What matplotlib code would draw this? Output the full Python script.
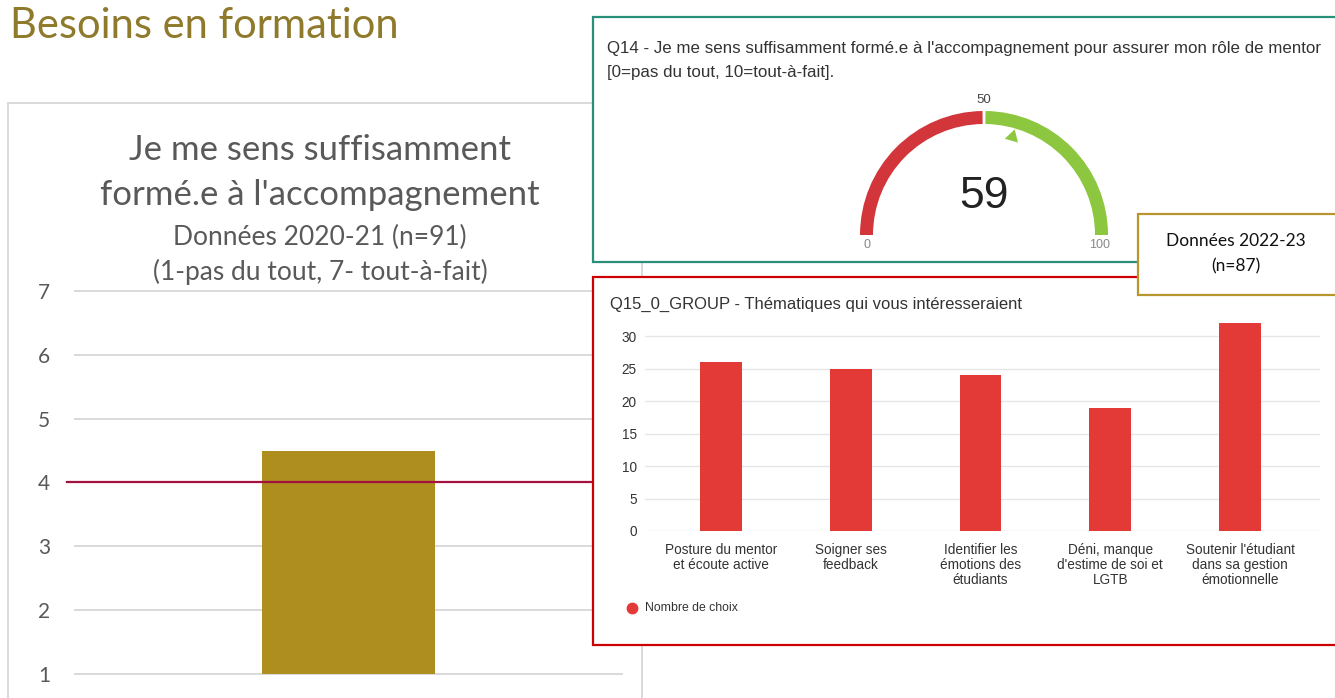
import matplotlib
matplotlib.use("Agg")
import matplotlib.pyplot as plt
import matplotlib.transforms as mtransforms
from matplotlib.patches import Rectangle, Wedge, Polygon
from matplotlib.lines import Line2D
import numpy as np

# ---------------- data ----------------
slide_title = "Besoins en formation"

# 2020-21 survey: mean self-assessed training level on a 1-7 scale
left_title = ["Je me sens suffisamment", "formé.e à l'accompagnement"]
left_subtitle = ["Données 2020-21 (n=91)", "(1-pas du tout, 7- tout-à-fait)"]
score_2021 = 4.5
reference_level = 4.0
left_ticks = [1, 2, 3, 4, 5, 6, 7]

# 2022-23 survey: gauge on a 0-100 scale
q14_text = ["Q14 - Je me sens suffisamment formé.e à l'accompagnement pour assurer mon rôle de mentor",
            "[0=pas du tout, 10=tout-à-fait]."]
gauge_value = 59
gauge_min, gauge_mid, gauge_max = 0, 50, 100

# 2022-23 survey: topics of interest
q15_title = "Q15_0_GROUP - Thématiques qui vous intéresseraient"
themes = ["Posture du mentor\net écoute active",
          "Soigner ses\nfeedback",
          "Identifier les\némotions des\nétudiants",
          "Déni, manque\nd'estime de soi et\nLGTB",
          "Soutenir l'étudiant\ndans sa gestion\némotionnelle"]
theme_counts = [26, 25, 24, 19, 32]
count_ticks = [0, 5, 10, 15, 20, 25, 30]
legend_label = "Nombre de choix"

note_text = ["Données 2022-23", "(n=87)"]

# ---------------- layout helpers (pixel -> figure fraction) ----------------
W, H = 1335, 698
fig = plt.figure(figsize=(W / 100, H / 100), dpi=100)
fig.patch.set_facecolor("white")


def fx(x):
    return x / W


def fy(y):
    return 1 - y / H


def rect_px(x0, y0, x1, y1):
    return [fx(x0), fy(y1), (x1 - x0) / W, (y1 - y0) / H]


def frame(x0, y0, x1, y1, edge, lw, z):
    r = Rectangle((fx(x0), fy(y1)), (x1 - x0) / W, (y1 - y0) / H,
                  transform=fig.transFigure, facecolor="white",
                  edgecolor=edge, linewidth=lw, zorder=z, clip_on=False)
    fig.add_artist(r)


SANS = ["Lato", "DejaVu Sans"]
WEB = ["Liberation Sans", "DejaVu Sans"]

# ---------------- slide title ----------------
fig.text(fx(10), fy(26), slide_title, fontsize=30, color="#8F7A2C",
         family=SANS, va="center", ha="left")

# ---------------- left chart (2020-21) ----------------
frame(8, 103, 642, 710, "#D9D9D9", 1.4, 0.5)

for txt, y in zip(left_title, [150, 195]):
    fig.text(fx(320), fy(y), txt, fontsize=25, color="#595959",
             family=SANS, ha="center", va="center", zorder=1)
for txt, y in zip(left_subtitle, [237, 272]):
    fig.text(fx(320), fy(y), txt, fontsize=19, color="#595959",
             family=SANS, ha="center", va="center", zorder=1)

axl = fig.add_axes(rect_px(75, 291, 622, 674), zorder=1)
axl.patch.set_visible(False)
axl.set_xlim(-0.5, 0.5)
axl.set_ylim(left_ticks[0], left_ticks[-1])
for t in left_ticks:
    axl.axhline(t, color="#D9D9D9", lw=1.4, zorder=0, clip_on=False)
axl.bar([0], [score_2021], width=0.315, color="#AD8E1F", zorder=2)
axl.set_yticks(left_ticks)
axl.set_xticks([])
axl.tick_params(axis="y", length=0, pad=18, labelsize=15, labelcolor="#595959")
for lab in axl.get_yticklabels():
    lab.set_family(SANS)
for s in axl.spines.values():
    s.set_visible(False)

# reference line at the mid level, running across to the right-hand panels
blend = mtransforms.blended_transform_factory(fig.transFigure, axl.transData)
axl.plot([fx(67), fx(593)], [reference_level, reference_level], transform=blend,
         color="#A3123F", lw=1.6, clip_on=False, zorder=3)

# ---------------- Q14 gauge panel ----------------
frame(593, 17, 1345, 262, "#2A8F78", 1.6, 2)
for txt, y in zip(q14_text, [48, 73]):
    fig.text(fx(607), fy(y), txt, fontsize=12.2, color="#333333",
             family=WEB, ha="left", va="center", zorder=3)

axg = fig.add_axes(rect_px(844, 95, 1124, 375), zorder=3)
axg.patch.set_visible(False)
axg.set_xlim(-1.4, 1.4)
axg.set_ylim(-1.4, 1.4)
axg.axis("off")


def angle(v):
    return 180.0 - 180.0 * (v - gauge_min) / (gauge_max - gauge_min)


R_OUT, THICK, GAP = 1.24, 0.13, 0.7
axg.add_patch(Wedge((0, 0), R_OUT, angle(gauge_mid) + GAP, angle(gauge_min),
                    width=THICK, facecolor="#D2353A", edgecolor="none"))
axg.add_patch(Wedge((0, 0), R_OUT, angle(gauge_max), angle(gauge_mid) - GAP,
                    width=THICK, facecolor="#8DC63F", edgecolor="none"))

a = np.radians(angle(gauge_value))
a_half = np.radians(4.0)
tip = (1.10 * np.cos(a), 1.10 * np.sin(a))
b1 = (0.985 * np.cos(a + a_half), 0.985 * np.sin(a + a_half))
b2 = (0.985 * np.cos(a - a_half), 0.985 * np.sin(a - a_half))
axg.add_patch(Polygon([tip, b1, b2], closed=True, facecolor="#8DC63F",
                      edgecolor="none"))

axg.text(0, 0.39, f"{gauge_value}", fontsize=32, color="#222222", family=WEB,
         ha="center", va="center")
axg.text(0, 1.35, f"{gauge_mid}", fontsize=9.5, color="#444444", family=WEB,
         ha="center", va="center")
axg.text(-1.17, -0.105, f"{gauge_min}", fontsize=9, color="#888888", family=WEB,
         ha="center", va="center")
axg.text(1.155, -0.105, f"{gauge_max}", fontsize=9, color="#888888", family=WEB,
         ha="center", va="center")

# ---------------- Q15 bar chart panel ----------------
frame(593, 277, 1345, 645, "#CC0000", 1.6, 2)
fig.text(fx(610), fy(304), q15_title, fontsize=12, color="#333333",
         family=WEB, ha="left", va="center", zorder=3)

axb = fig.add_axes(rect_px(645, 319.75, 1320, 531), zorder=3)
axb.patch.set_visible(False)
x = np.arange(len(themes))
axb.bar(x, theme_counts, width=0.32, color="#E33A37", zorder=2)
axb.set_xlim(-0.586, 4.617)
axb.set_ylim(0, 32.5)
axb.set_yticks(count_ticks)
axb.yaxis.grid(True, color="#E6E6E6", lw=1.0, zorder=0)
axb.set_axisbelow(True)
axb.set_xticks(x)
axb.set_xticklabels(themes, fontsize=9.8, color="#333333", family=WEB,
                    linespacing=1.12)
axb.tick_params(axis="x", length=0, pad=8.5)
axb.tick_params(axis="y", length=0, pad=6, labelsize=9.8, labelcolor="#333333")
for lab in axb.get_yticklabels():
    lab.set_family(WEB)
for s in axb.spines.values():
    s.set_visible(False)

fig.add_artist(Line2D([fx(632)], [fy(608)], marker="o", markersize=7.5,
                      color="#E33A37", linestyle="none",
                      transform=fig.transFigure, zorder=3))
fig.text(fx(645), fy(608), legend_label, fontsize=8.8, color="#333333",
         family=WEB, ha="left", va="center", zorder=3)

# ---------------- sample-size note ----------------
frame(1138, 214, 1345, 295, "#B8962E", 1.6, 5)
for txt, y in zip(note_text, [241, 266]):
    fig.text(fx(1236), fy(y), txt, fontsize=12.5, color="#111111",
             family=SANS, ha="center", va="center", zorder=6)

fig.savefig("out.png", dpi=100, facecolor="white")
